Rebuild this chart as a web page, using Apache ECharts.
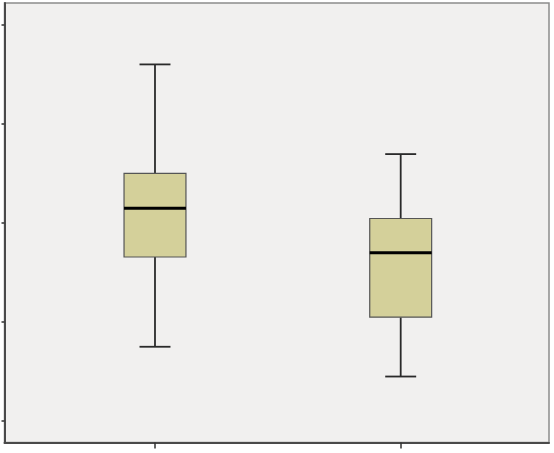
<!DOCTYPE html>
<html>
<head>
<meta charset="utf-8">
<script src="https://cdn.jsdelivr.net/npm/echarts@6/dist/echarts.min.js"></script>
<style>
html,body{margin:0;padding:0;background:#fff;}
#c{width:554px;height:453px;}
</style>
</head>
<body>
<div id="c"></div>
<script>
// Groups (x positions) and box statistics
var groups = [1, 2];
var whiskerLow = [0.75, 0.45];
var q1 = [1.655, 1.048];
var median = [2.147, 1.698];
var q3 = [2.497, 2.043];
var whiskerHigh = [3.596, 2.692];
var yTicks = [0, 1, 2, 3, 4];

var data = groups.map(function (g, i) {
  return [g, whiskerLow[i], q1[i], median[i], q3[i], whiskerHigh[i]];
});

var chart = echarts.init(document.getElementById('c'), null, {renderer: 'canvas'});
chart.setOption({
  animation: false,
  backgroundColor: '#ffffff',
  grid: {
    left: 4.5, right: 5, top: 3, bottom: 10.5,
    show: true,
    backgroundColor: '#f1f0ef',
    borderColor: '#8c8c8c',
    borderWidth: 1.5
  },
  xAxis: {
    type: 'value',
    min: 0.3875,
    max: 2.6036,
    splitLine: {show: false},
    axisLabel: {show: false},
    axisLine: {show: true, onZero: false, lineStyle: {color: '#4a4a4a', width: 2}},
    axisTick: {show: true, customValues: groups, length: 6, lineStyle: {color: '#333', width: 1.5}}
  },
  yAxis: {
    type: 'value',
    min: -0.215,
    max: 4.215,
    splitLine: {show: false},
    axisLabel: {show: false},
    axisLine: {show: true, onZero: false, lineStyle: {color: '#4a4a4a', width: 2}},
    axisTick: {show: true, customValues: yTicks, length: 3, lineStyle: {color: '#333', width: 1.5}}
  },
  series: [{
    type: 'custom',
    data: data,
    encode: {x: 0, y: [1, 2, 3, 4, 5]},
    renderItem: function (params, api) {
      var x = api.value(0);
      var pLow = api.coord([x, api.value(1)]);
      var pQ1 = api.coord([x, api.value(2)]);
      var pMed = api.coord([x, api.value(3)]);
      var pQ3 = api.coord([x, api.value(4)]);
      var pHigh = api.coord([x, api.value(5)]);
      var boxW = api.size([0.252, 0])[0];
      var capW = boxW / 2;
      var cx = pLow[0];
      var wStyle = {stroke: '#2a2a2a', lineWidth: 1.8};
      return {
        type: 'group',
        children: [
          {type: 'line', shape: {x1: cx, y1: pHigh[1], x2: cx, y2: pQ3[1]}, style: wStyle},
          {type: 'line', shape: {x1: cx, y1: pQ1[1], x2: cx, y2: pLow[1]}, style: wStyle},
          {type: 'line', shape: {x1: cx - capW / 2, y1: pHigh[1], x2: cx + capW / 2, y2: pHigh[1]}, style: wStyle},
          {type: 'line', shape: {x1: cx - capW / 2, y1: pLow[1], x2: cx + capW / 2, y2: pLow[1]}, style: wStyle},
          {type: 'rect', shape: {x: cx - boxW / 2, y: pQ3[1], width: boxW, height: pQ1[1] - pQ3[1]},
            style: {fill: '#d4d09a', stroke: '#555', lineWidth: 1.2}},
          {type: 'line', shape: {x1: cx - boxW / 2, y1: pMed[1], x2: cx + boxW / 2, y2: pMed[1]},
            style: {stroke: '#000', lineWidth: 3}}
        ]
      };
    }
  }]
});
</script>
</body>
</html>
